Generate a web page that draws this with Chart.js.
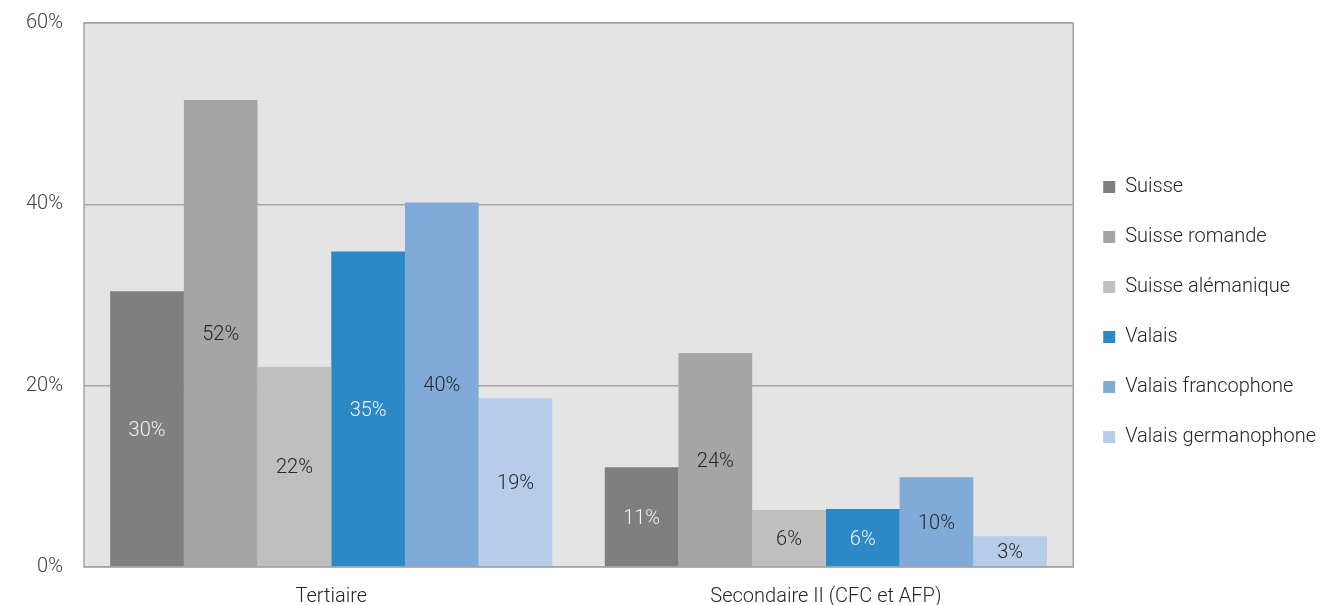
<!DOCTYPE html>
<html>
<head>
<meta charset="utf-8">
<script src="https://cdn.jsdelivr.net/npm/chart.js@4"></script>
<style>
  html, body { margin: 0; padding: 0; background: #ffffff; }
  #wrap { width: 1333px; height: 605px; }
</style>
</head>
<body>
<div id="wrap"><canvas id="chart"></canvas></div>
<script>
// Catégories et séries (valeurs en %)
const categories = ['Tertiaire', 'Secondaire II (CFC et AFP)'];
const seriesNames = ['Suisse', 'Suisse romande', 'Suisse alémanique', 'Valais', 'Valais francophone', 'Valais germanophone'];
const suisse = [30.4, 11.0];
const suisseRomande = [51.5, 23.6];
const suisseAlemanique = [22.1, 6.3];
const valais = [34.8, 6.4];
const valaisFrancophone = [40.2, 9.9];
const valaisGermanophone = [18.6, 3.4];
const yTicks = [0, 20, 40, 60];

const seriesValues = [suisse, suisseRomande, suisseAlemanique, valais, valaisFrancophone, valaisGermanophone];
const barColors = ['#7f7f7f', '#a5a5a5', '#bfbfbf', '#2b8ac6', '#80abd8', '#b6cdea'];
const labelColors = ['#f2f2f2', '#262626', '#262626', '#f2f2f2', '#262626', '#262626'];

// Fond gris et cadre de la zone de tracé
const plotBackground = {
    id: 'plotBackground',
    beforeDraw(chart) {
        const { ctx, chartArea: a } = chart;
        ctx.save();
        ctx.fillStyle = '#e4e4e4';
        ctx.fillRect(a.left, a.top, a.right - a.left, a.bottom - a.top);
        ctx.restore();
    },
    afterDatasetsDraw(chart) {
        const { ctx, chartArea: a } = chart;
        ctx.save();
        ctx.strokeStyle = '#a6a6a6';
        ctx.lineWidth = 1.5;
        ctx.strokeRect(a.left, a.top, a.right - a.left, a.bottom - a.top);
        ctx.restore();
    }
};

// Étiquettes de valeur au centre des barres
const valueLabels = {
    id: 'valueLabels',
    afterDatasetsDraw(chart) {
        const ctx = chart.ctx;
        ctx.save();
        ctx.font = '300 20px Roboto';
        ctx.textAlign = 'center';
        ctx.textBaseline = 'middle';
        chart.data.datasets.forEach((ds, i) => {
            chart.getDatasetMeta(i).data.forEach((bar, j) => {
                ctx.fillStyle = labelColors[i];
                ctx.fillText(Math.round(ds.data[j]) + '%', bar.x, (bar.y + bar.base) / 2 + 2);
            });
        });
        ctx.restore();
    }
};

new Chart(document.getElementById('chart'), {
    type: 'bar',
    data: {
        labels: categories,
        datasets: seriesNames.map((name, i) => ({
            label: name,
            data: seriesValues[i],
            backgroundColor: barColors[i],
            borderWidth: 0,
            categoryPercentage: 0.894,
            barPercentage: 1.0
        }))
    },
    options: {
        responsive: true,
        maintainAspectRatio: false,
        animation: false,
        layout: { padding: { top: -1, right: 7, left: 5, bottom: -20 } },
        plugins: {
            tooltip: { enabled: false },
            legend: {
                position: 'right',
                labels: {
                    boxWidth: 12,
                    boxHeight: 12,
                    padding: 30,
                    color: '#262626',
                    font: { family: 'Roboto', size: 20, weight: '300' }
                }
            }
        },
        scales: {
            x: {
                grid: { display: false, drawTicks: false },
                border: { display: false },
                afterFit: axis => { axis.height = 58; },
                ticks: { color: '#262626', padding: 20, font: { family: 'Roboto', size: 20, weight: '300', lineHeight: 1 } }
            },
            y: {
                min: 0,
                max: 60,
                afterBuildTicks: axis => { axis.ticks = yTicks.map(v => ({ value: v })); },
                // marge haute fixe pour caler la zone de tracé
                afterFit: axis => { axis.paddingTop = 23; axis.paddingBottom = 0; },
                grid: { color: '#a6a6a6', lineWidth: 1.5, drawTicks: false },
                border: { display: false },
                ticks: {
                    color: '#404040',
                    padding: 21,
                    font: { family: 'Roboto', size: 20, weight: '300' },
                    callback: v => v + '%'
                }
            }
        }
    },
    plugins: [plotBackground, valueLabels]
});
</script>
</body>
</html>
